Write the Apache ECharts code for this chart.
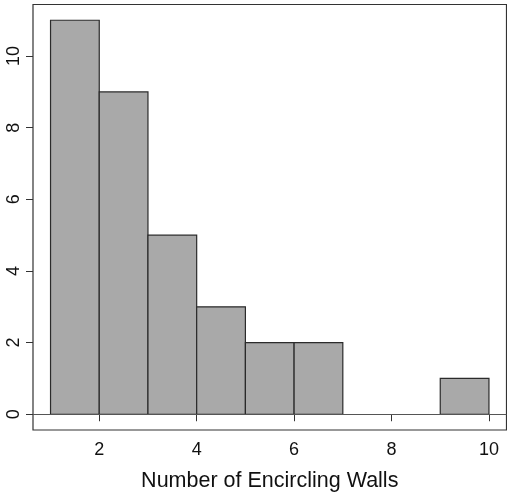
<!DOCTYPE html>
<html>
<head>
<meta charset="utf-8">
<script src="https://cdn.jsdelivr.net/npm/echarts@6/dist/echarts.min.js"></script>
<style>
  html, body { margin: 0; padding: 0; background: #fff; }
  #chart { width: 507px; height: 500px; }
</style>
</head>
<body>
<div id="chart"></div>
<script>
// histogram bins (left edge, right edge) and counts
const binStart = [1, 2, 3, 4, 5, 6, 7, 8, 9]
const binEnd = [2, 3, 4, 5, 6, 7, 8, 9, 10]
const counts = [11, 9, 5, 3, 2, 2, 0, 0, 1]
const xTicks = [2, 4, 6, 8, 10]
const yTicks = [0, 2, 4, 6, 8, 10]

const chart = echarts.init(document.getElementById('chart'))

const font = 'Liberation Sans, Arial, sans-serif'

const option = {
  animation: false,
  grid: {
    left: 33,
    right: 0.5,
    top: 4.5,
    bottom: 70,
    show: true,
    borderColor: '#333',
    borderWidth: 1.2
  },
  xAxis: {
    type: 'value',
    min: 0.64,
    max: 10.36,
    name: 'Number of Encircling Walls',
    nameLocation: 'middle',
    nameGap: 40,
    nameTextStyle: { color: '#111', fontSize: 21.5, fontFamily: font },
    axisLine: { show: false },
    splitLine: { show: false },
    axisTick: {
      show: true,
      length: 7,
      customValues: xTicks,
      lineStyle: { color: '#333' }
    },
    axisLabel: {
      customValues: xTicks,
      margin: 11,
      color: '#111',
      fontSize: 18,
      fontFamily: font
    }
  },
  yAxis: {
    type: 'value',
    min: -0.44,
    max: 11.44,
    axisLine: { show: false },
    splitLine: { show: false },
    axisTick: {
      show: true,
      length: 7,
      customValues: yTicks,
      lineStyle: { color: '#333' }
    },
    axisLabel: {
      customValues: yTicks,
      rotate: 90,
      margin: 10,
      color: '#111',
      fontSize: 18,
      fontFamily: font
    }
  },
  series: [
    {
      type: 'custom',
      data: binStart.map((s, i) => [s, binEnd[i], counts[i]]),
      encode: { x: [0, 1], y: 2 },
      renderItem: (params, api) => {
        if (api.value(2) <= 0) return
        const p0 = api.coord([api.value(0), api.value(2)])
        const p1 = api.coord([api.value(1), 0])
        return {
          type: 'rect',
          shape: { x: p0[0], y: p0[1], width: p1[0] - p0[0], height: p1[1] - p0[1] },
          style: { fill: '#a9a9a9', stroke: '#2b2b2b', lineWidth: 1.2 }
        }
      },
      markLine: {
        silent: true,
        symbol: 'none',
        label: { show: false },
        lineStyle: { color: '#555', type: 'solid', width: 1.2 },
        data: [{ yAxis: 0 }]
      },
      z: 2
    }
  ]
}

chart.setOption(option)
</script>
</body>
</html>
